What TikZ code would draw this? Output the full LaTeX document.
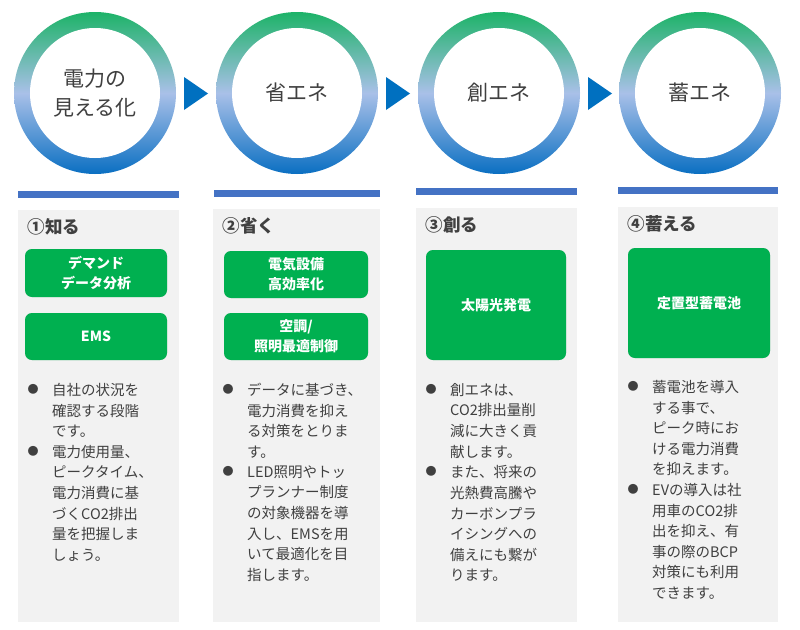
\documentclass[tikz,border=0pt]{standalone}
\usepackage{fontspec}
\setmainfont{Noto Sans CJK JP}
\usetikzlibrary{shadows}
\definecolor{ringG}{HTML}{1DB368}
\definecolor{ringM}{HTML}{A9C0E8}
\definecolor{ringB}{HTML}{0A6FC2}
\definecolor{barB}{HTML}{4472C4}
\definecolor{panel}{HTML}{F2F2F2}
\definecolor{gbox}{HTML}{00B050}
\definecolor{arrB}{HTML}{0070C0}
\definecolor{txt}{HTML}{404040}
\tikzset{
  ringtext/.style={font=\fontsize{21}{29}\selectfont, text=txt, align=center},
  gbx/.style={fill=gbox, rounded corners=7pt, drop shadow={opacity=0.35,shadow xshift=0pt,shadow yshift=0pt}, text=white, font=\bfseries\fontsize{14}{20}\selectfont, align=center},
  head/.style={anchor=west, font=\bfseries\fontsize{17.5}{20}\selectfont, text=txt},
  btxt/.style={anchor=north west, align=left, font=\fontsize{14.5}{20.6}\selectfont, text=txt, inner sep=0pt},
  bul/.style={anchor=north, font=\fontsize{11}{20.6}\selectfont, text=txt, inner sep=0pt},
}
\begin{document}
\begin{tikzpicture}[x=1pt,y=-1pt]
\useasboundingbox (0,0) rectangle (800,629);
\fill[white] (0,0) rectangle (800,629);
\foreach \cx/\nm in {95/r1,297/r2,499/r3,700/r4}{
  \shade[top color=ringG, bottom color=ringB, middle color=ringM] (\cx,93) circle (81);
  \fill[white] (\cx,93) circle (65);
  \coordinate (\nm) at (\cx,93);
}
\node[ringtext] (t1) at (r1) {電力の\\見える化};
\node[ringtext] (t2) at (r2) {省エネ};
\node[ringtext] (t3) at (r3) {創エネ};
\node[ringtext] (t4) at (r4) {蓄エネ};
\foreach \ax in {184,386,588}{
  \fill[arrB] (\ax,77) -- (\ax+24,93.5) -- (\ax,110) -- cycle;
}
\fill[barB] (18,191) rectangle (179,198);
\fill[barB] (214,190) rectangle (380,197);
\fill[barB] (416,188) rectangle (577,195);
\fill[barB] (618,187) rectangle (778,194);
\fill[panel] (18,210) rectangle (179,622);
\fill[panel] (213,209) rectangle (380,622);
\fill[panel] (416,208) rectangle (577,622);
\fill[panel] (618,207) rectangle (778,622);
\node[head] (h1) at (24,227) {①知る};
\node[head] (h2) at (219,226) {②省く};
\node[head] (h3) at (422,225) {③創る};
\node[head] (h4) at (624,224) {④蓄える};
\node[gbx, minimum width=142, minimum height=48] (g1) at (96,273) {デマンド\\データ分析};
\node[gbx, minimum width=142, minimum height=47] (g2) at (96,336.5) {EMS};
\node[gbx, minimum width=144, minimum height=47] (g3) at (296,274.5) {電気設備\\高効率化};
\node[gbx, minimum width=144, minimum height=47] (g4) at (296,336.5) {空調/\\照明最適制御};
\node[gbx, minimum width=140, minimum height=110] (g5) at (496,305) {太陽光発電};
\node[gbx, minimum width=142, minimum height=110] (g6) at (699,303) {定置型蓄電池};
\node[bul] (b11) at (33,384) {●};
\node[btxt] (x11) at (52,383) {自社の状況を\\確認する段階\\です。};
\node[bul] (b12) at (33,445.8) {●};
\node[btxt] (x12) at (52,444.8) {電力使用量、\\ピークタイム、\\電力消費に基\\づくCO2排出\\量を把握しま\\しょう。};
\node[bul] (b21) at (228,384) {●};
\node[btxt] (x21) at (247,383) {データに基づき、\\電力消費を抑え\\る対策をとりま\\す。};
\node[bul] (b22) at (228,466.4) {●};
\node[btxt] (x22) at (247,465.4) {LED照明やトッ\\プランナー制度\\の対象機器を導\\入し、EMSを用\\いて最適化を目\\指します。};
\node[bul] (b31) at (431,384) {●};
\node[btxt] (x31) at (450,383) {創エネは、\\CO2排出量削\\減に大きく貢\\献します。};
\node[bul] (b32) at (431,466.4) {●};
\node[btxt] (x32) at (450,465.4) {また、将来の\\光熱費高騰や\\カーボンプラ\\イシングへの\\備えにも繋が\\ります。};
\node[bul] (b41) at (633,381) {●};
\node[btxt] (x41) at (652,380) {蓄電池を導入\\する事で、\\ピーク時にお\\ける電力消費\\を抑えます。};
\node[bul] (b42) at (633,484) {●};
\node[btxt] (x42) at (652,483) {EVの導入は社\\用車のCO2排\\出を抑え、有\\事の際のBCP\\対策にも利用\\できます。};
\end{tikzpicture}
\end{document}
